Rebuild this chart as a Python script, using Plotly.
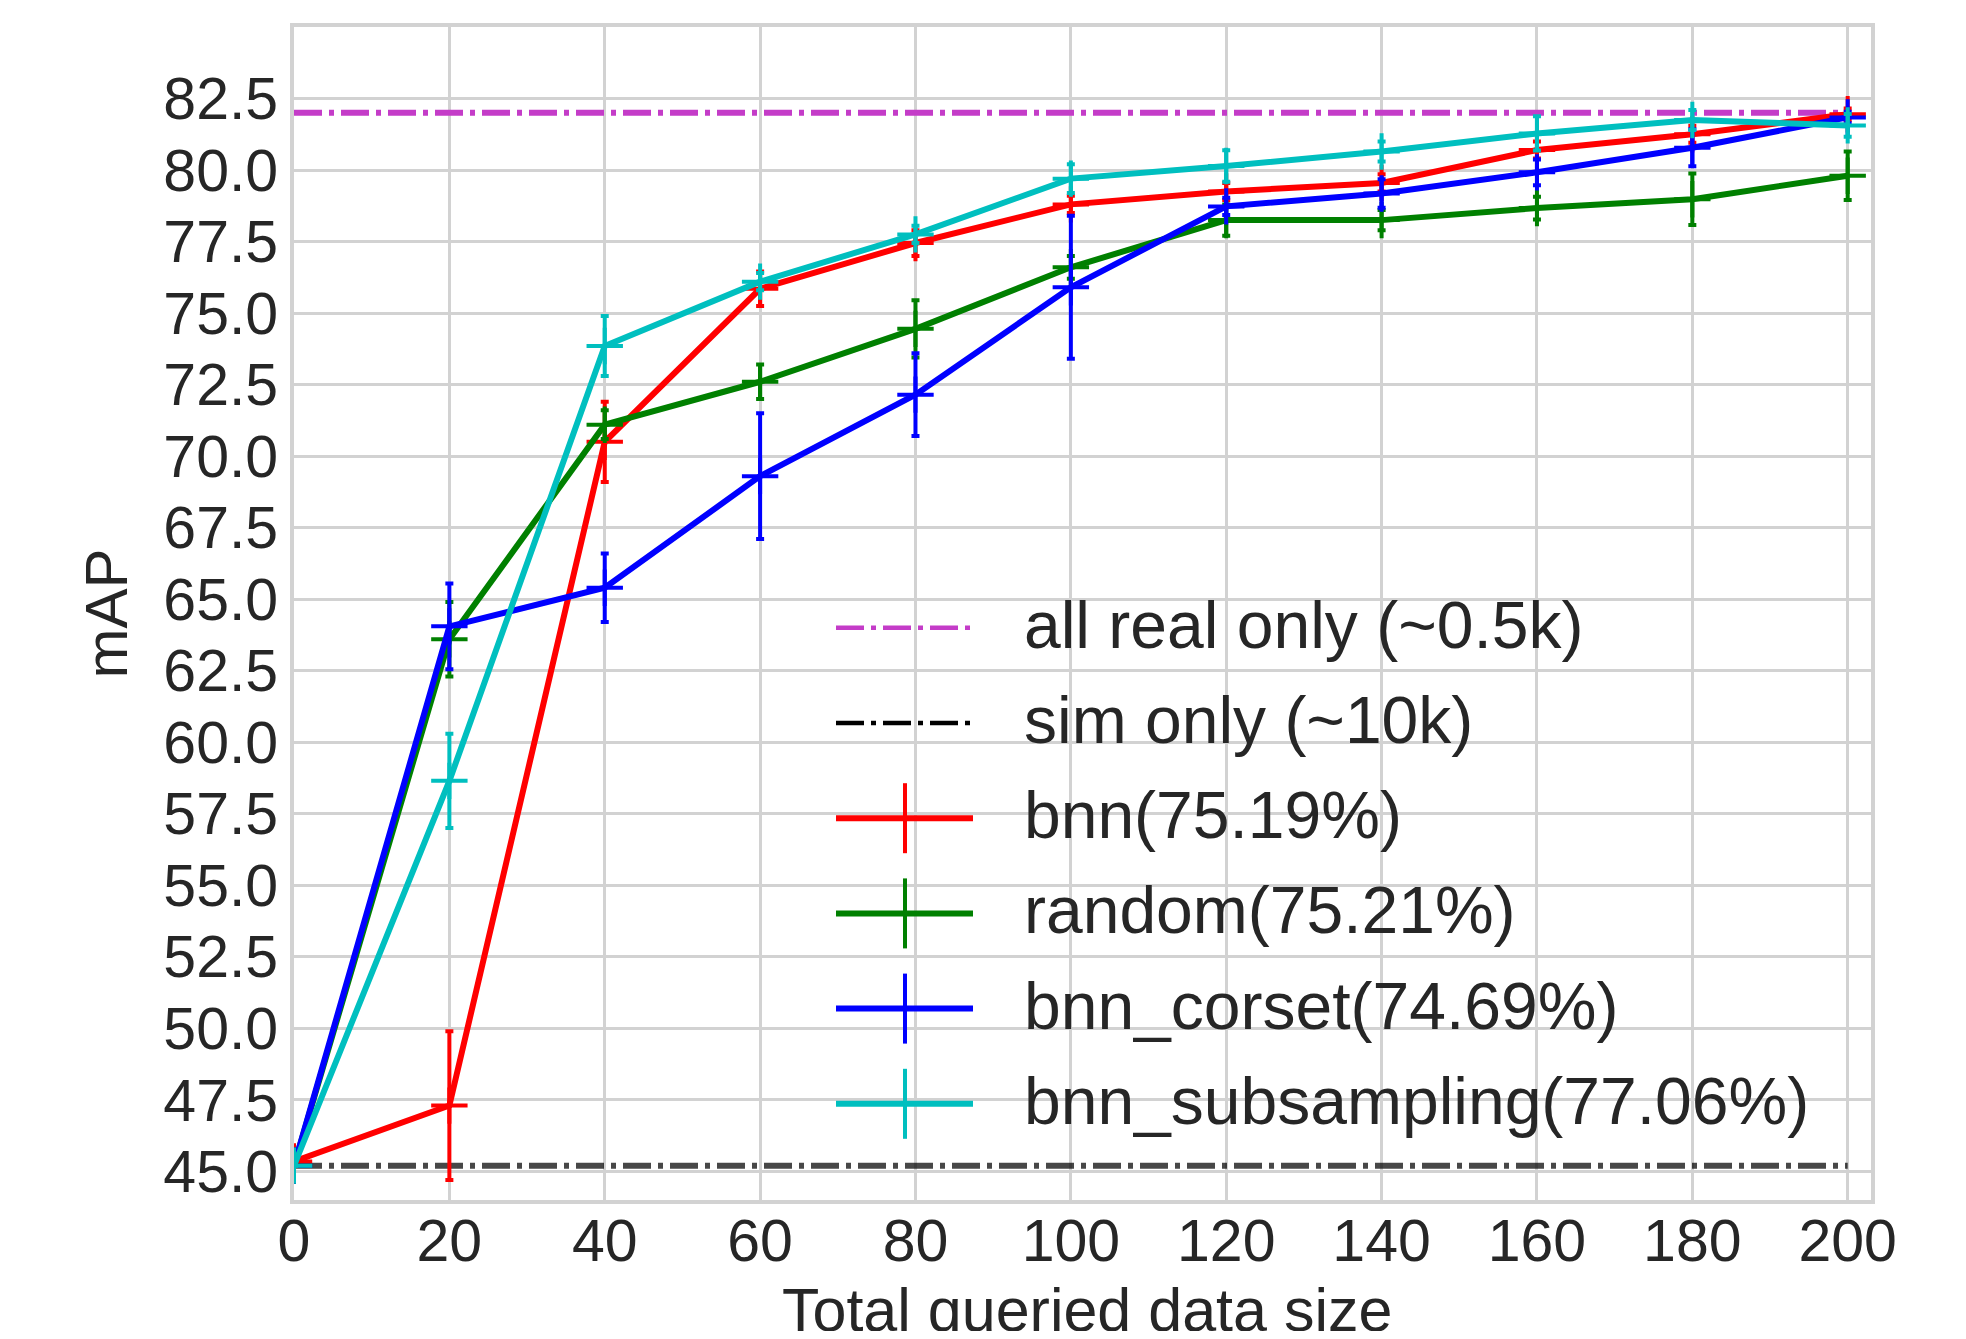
import plotly.graph_objects as go

# ---------------- data ----------------
x_vals = [0, 20, 40, 60, 80, 100, 120, 140, 160, 180, 200]

bnn = [45.35, 47.3, 70.5, 75.85, 77.45, 78.8, 79.25, 79.55, 80.7, 81.25, 81.95]
bnn_err = [0.0, 2.6, 1.4, 0.6, 0.45, 0.3, 0.3, 0.3, 0.3, 0.3, 0.2]

random_q = [45.2, 63.6, 71.1, 72.6, 74.45, 76.6, 78.25, 78.25, 78.67, 78.98, 79.8]
random_err = [0.0, 1.3, 0.5, 0.6, 1.0, 0.4, 0.55, 0.35, 0.4, 0.9, 0.85]

bnn_corset = [45.2, 64.05, 65.4, 69.3, 72.15, 75.9, 78.73, 79.18, 79.92, 80.78, 81.84]
bnn_corset_err = [0.0, 1.5, 1.2, 2.2, 1.45, 2.5, 0.3, 0.5, 0.45, 0.65, 0.2]

bnn_subsampling = [45.2, 58.65, 73.85, 76.1, 77.75, 79.7, 80.14, 80.65, 81.28, 81.75, 81.56]
bnn_subsampling_err = [0.0, 1.65, 1.05, 0.3, 0.3, 0.5, 0.55, 0.35, 0.6, 0.35, 0.4]

all_real_only = 82.0
sim_only = 45.2

ref_names = ["all real only (~0.5k)", "sim only (~10k)"]
series_names = ["bnn(75.19%)", "random(75.21%)", "bnn_corset(74.69%)", "bnn_subsampling(77.06%)"]

x_ticks = [0, 20, 40, 60, 80, 100, 120, 140, 160, 180, 200]
y_ticks = [45.0, 47.5, 50.0, 52.5, 55.0, 57.5, 60.0, 62.5, 65.0, 67.5, 70.0, 72.5, 75.0, 77.5, 80.0, 82.5]

x_title = "Total queried data size"
y_title = "mAP"

# ---------------- style ----------------
PAGE_OFF = 8                      # default body margin of the html page
FIG_W, FIG_H = 1950, 1323
PX0, PX1, PY0, PY1 = 294, 1871, 27, 1200   # plot area on screen
M_L = PX0 - PAGE_OFF
M_T = PY0 - PAGE_OFF
M_R = PAGE_OFF + FIG_W - PX1
M_B = PAGE_OFF + FIG_H - PY1
PLOT_W = PX1 - PX0
PLOT_H = PY1 - PY0

FONT = "Liberation Sans, Arial, sans-serif"
TEXT_COLOR = "#262626"
GRID_COLOR = "#d2d2d2"

MAGENTA = "#c43cc8"
SIM_COLOR = "rgba(0,0,0,0.72)"
SERIES_COLORS = ["#ff0000", "#008000", "#0000ff", "#00bfbf"]
DASHDOT = "28px,7px,5px,7px"


def px_x(X):
    return (X - PX0) / PLOT_W


def px_y(Y):
    return (PY1 - Y) / PLOT_H


fig = go.Figure()

# reference lines
fig.add_trace(go.Scatter(
    x=[x_vals[0], x_vals[-1]], y=[all_real_only, all_real_only], mode="lines",
    line=dict(color=MAGENTA, width=6, dash=DASHDOT), showlegend=False, name=ref_names[0]))
fig.add_trace(go.Scatter(
    x=[x_vals[0], x_vals[-1]], y=[sim_only, sim_only], mode="lines",
    line=dict(color=SIM_COLOR, width=6, dash=DASHDOT), showlegend=False, name=ref_names[1]))

series = [(bnn, bnn_err), (random_q, random_err), (bnn_corset, bnn_corset_err),
          (bnn_subsampling, bnn_subsampling_err)]
for (yv, ev), name, col in zip(series, series_names, SERIES_COLORS):
    fig.add_trace(go.Scatter(
        x=x_vals, y=yv, mode="lines+markers", name=name, showlegend=False,
        line=dict(color=col, width=6),
        marker=dict(symbol="cross-thin", size=26, color=col, line=dict(color=col, width=4)),
        error_y=dict(type="data", array=ev, visible=True, color=col, thickness=4, width=4),
    ))

# ---------------- manual legend (matplotlib-like) ----------------
LEG_ROW0 = 627.8
LEG_GAP = 95.2
LEG_X0, LEG_X1, LEG_XC = 836, 973, 905
LEG_TEXT_X = 1022
LEG_ERR_HALF = 35

shapes = []
annotations = []
leg_labels = ref_names + series_names
leg_colors = [MAGENTA, "#000000"] + SERIES_COLORS
for i, (lab, col) in enumerate(zip(leg_labels, leg_colors)):
    ry = LEG_ROW0 + i * LEG_GAP
    if i < 2:
        shapes.append(dict(type="line", xref="paper", yref="paper",
                           x0=px_x(LEG_X0), x1=px_x(LEG_X1), y0=px_y(ry), y1=px_y(ry),
                           line=dict(color=col, width=4.5, dash=DASHDOT)))
    else:
        shapes.append(dict(type="line", xref="paper", yref="paper",
                           x0=px_x(LEG_X0), x1=px_x(LEG_X1), y0=px_y(ry), y1=px_y(ry),
                           line=dict(color=col, width=6)))
        shapes.append(dict(type="line", xref="paper", yref="paper",
                           x0=px_x(LEG_XC), x1=px_x(LEG_XC),
                           y0=px_y(ry - LEG_ERR_HALF), y1=px_y(ry + LEG_ERR_HALF),
                           line=dict(color=col, width=4)))
    annotations.append(dict(text=lab, xref="paper", yref="paper",
                            x=px_x(LEG_TEXT_X), y=px_y(ry - 3), xanchor="left", yanchor="middle",
                            showarrow=False, font=dict(family=FONT, size=66, color=TEXT_COLOR)))

# axis titles
annotations.append(dict(text=y_title, xref="paper", yref="paper", x=px_x(106), y=0.5,
                        xanchor="center", yanchor="middle", textangle=-90, showarrow=False,
                        font=dict(family=FONT, size=60, color=TEXT_COLOR)))
annotations.append(dict(text=x_title, xref="paper", yref="paper", x=px_x(1087), y=px_y(1274),
                        xanchor="center", yanchor="top", showarrow=False,
                        font=dict(family=FONT, size=61, color=TEXT_COLOR)))

fig.update_layout(
    width=FIG_W, height=FIG_H,
    margin=dict(l=M_L, r=M_R, t=M_T, b=M_B, autoexpand=False),
    paper_bgcolor="white", plot_bgcolor="white",
    font=dict(family=FONT, color=TEXT_COLOR),
    shapes=shapes, annotations=annotations,
    showlegend=False,
)
fig.update_xaxes(
    range=[0, 203], tickmode="array", tickvals=x_ticks,
    showgrid=True, gridcolor=GRID_COLOR, gridwidth=3, zeroline=False,
    showline=True, linecolor=GRID_COLOR, linewidth=4, mirror=True,
    ticks="", ticklabelstandoff=-14,
    tickfont=dict(family=FONT, size=59, color=TEXT_COLOR),
)
fig.update_yaxes(
    range=[44.0, 85.0], tickmode="array", tickvals=y_ticks, tickformat=".1f",
    showgrid=True, gridcolor=GRID_COLOR, gridwidth=3, zeroline=False,
    showline=True, linecolor=GRID_COLOR, linewidth=4, mirror=True,
    ticks="",
    tickfont=dict(family=FONT, size=59, color=TEXT_COLOR),
)

fig.write_html("out.html")
